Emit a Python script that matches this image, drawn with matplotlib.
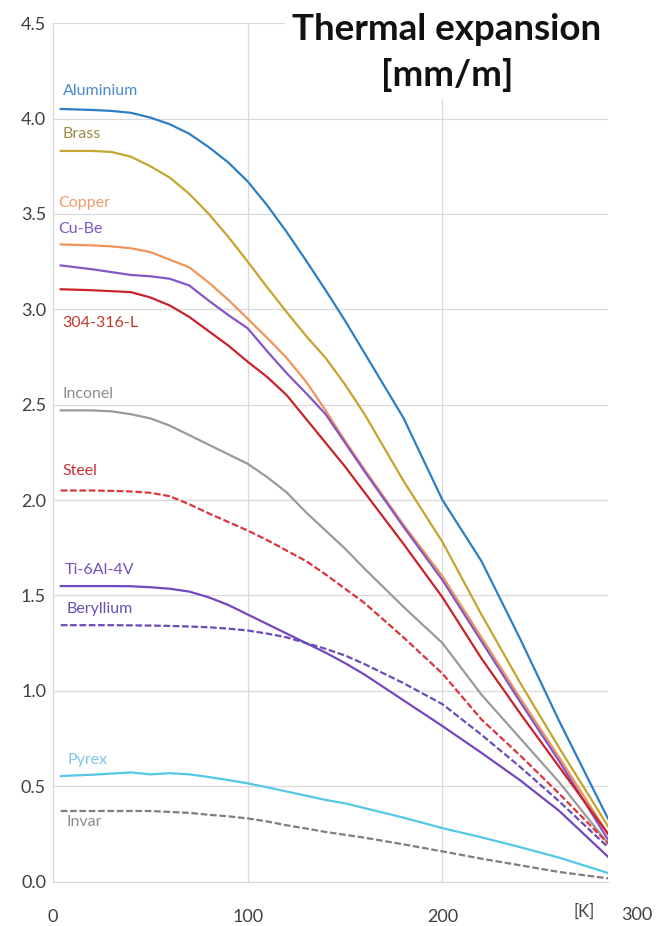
import matplotlib
matplotlib.use("Agg")
import matplotlib.pyplot as plt

plt.rcParams['font.family'] = ['Lato', 'DejaVu Sans']

# temperature [K]
temp = [4, 20, 30, 40, 50, 60, 70, 80, 90, 100, 110, 120, 130, 140, 150, 160,
        180, 200, 220, 240, 260, 285]

# thermal expansion [mm/m]
aluminium = [4.05, 4.045, 4.04, 4.03, 4.005, 3.97, 3.92, 3.85, 3.77, 3.67, 3.545, 3.405, 3.255, 3.10,
             2.94, 2.77, 2.43, 2.00, 1.68, 1.27, 0.84, 0.33]
brass = [3.83, 3.83, 3.825, 3.80, 3.75, 3.69, 3.605, 3.50, 3.38, 3.25, 3.115, 2.985, 2.86, 2.745,
         2.605, 2.45, 2.10, 1.78, 1.40, 1.04, 0.70, 0.29]
copper = [3.34, 3.335, 3.33, 3.32, 3.30, 3.26, 3.22, 3.14, 3.05, 2.95, 2.85, 2.745, 2.62, 2.47,
          2.31, 2.16, 1.87, 1.60, 1.28, 0.96, 0.65, 0.25]
cube = [3.23, 3.21, 3.195, 3.18, 3.173, 3.16, 3.125, 3.045, 2.97, 2.90, 2.78, 2.665, 2.56, 2.45,
        2.30, 2.15, 1.86, 1.58, 1.26, 0.94, 0.63, 0.22]
ss304 = [3.105, 3.10, 3.095, 3.09, 3.062, 3.02, 2.96, 2.885, 2.81, 2.725, 2.645, 2.55, 2.425, 2.30,
         2.175, 2.04, 1.77, 1.49, 1.17, 0.88, 0.60, 0.25]
inconel = [2.47, 2.47, 2.465, 2.45, 2.428, 2.39, 2.34, 2.29, 2.24, 2.19, 2.12, 2.04, 1.935, 1.84,
           1.745, 1.64, 1.44, 1.25, 0.98, 0.75, 0.52, 0.20]
steel = [2.05, 2.05, 2.048, 2.045, 2.038, 2.02, 1.978, 1.93, 1.885, 1.84, 1.79, 1.735, 1.68, 1.61,
         1.535, 1.46, 1.28, 1.09, 0.85, 0.66, 0.46, 0.20]
ti64 = [1.549, 1.549, 1.549, 1.548, 1.543, 1.535, 1.52, 1.49, 1.45, 1.40, 1.35, 1.30, 1.25, 1.20,
        1.145, 1.085, 0.95, 0.815, 0.675, 0.53, 0.37, 0.13]
beryllium = [1.344, 1.344, 1.344, 1.343, 1.342, 1.34, 1.337, 1.333, 1.326, 1.316, 1.30, 1.28, 1.25,
             1.22, 1.185, 1.14, 1.04, 0.93, 0.77, 0.60, 0.42, 0.18]
pyrex = [0.553, 0.56, 0.566, 0.572, 0.562, 0.568, 0.562, 0.548, 0.532, 0.515, 0.494, 0.472, 0.45,
         0.428, 0.41, 0.385, 0.335, 0.28, 0.232, 0.18, 0.125, 0.045]
invar = [0.37, 0.37, 0.37, 0.37, 0.37, 0.365, 0.36, 0.35, 0.342, 0.331, 0.315, 0.295, 0.278, 0.26,
         0.245, 0.23, 0.195, 0.158, 0.12, 0.085, 0.05, 0.017]

names = ['Aluminium', 'Brass', 'Copper', 'Cu-Be', '304-316-L', 'Inconel', 'Steel',
         'Ti-6Al-4V', 'Beryllium', 'Pyrex', 'Invar']
series = [aluminium, brass, copper, cube, ss304, inconel, steel, ti64, beryllium, pyrex, invar]
colors = ['#2E7EC3', '#C4A52E', '#F0955A', '#8456C6', '#C8232C', '#9A9A9A', '#D9363E',
          '#7447BF', '#6A4CB8', '#55C8E6', '#7F7F7F']
dashed = [False, False, False, False, False, False, True, False, True, False, True]
# label anchor (x, y) in data units
label_x = [5, 5, 2.5, 2.5, 5, 5, 5, 6, 7, 7.5, 7]
label_y = [4.143, 3.92, 3.556, 3.42, 2.93, 2.555, 2.152, 1.633, 1.43, 0.637, 0.312]
label_colors = ['#4A8AD0', '#9C8A45', '#F29B68', '#7E57C2', '#C0392B', '#8C8C8C', '#C8303A',
                '#7450B8', '#6A50B0', '#7FC8E8', '#8C8C8C']

fig = plt.figure(figsize=(6.58, 9.26), dpi=100)
ax = fig.add_axes([0.0805, 0.048, 0.8435, 0.927])

for ys, c, d in zip(series, colors, dashed):
    if d:
        ax.plot(temp, ys, color=c, lw=1.6, dashes=(3, 1.2), zorder=3)
    else:
        ax.plot(temp, ys, color=c, lw=1.6, zorder=3)

for n, lx, ly, lc in zip(names, label_x, label_y, label_colors):
    ax.text(lx, ly, n, color=lc, fontsize=11.5, ha='left', va='center', zorder=4)

ax.set_xlim(0, 285)
ax.set_ylim(0, 4.5)
ax.set_yticks([0, 0.5, 1, 1.5, 2, 2.5, 3, 3.5, 4, 4.5])
ax.set_yticklabels(['0.0', '0.5', '1.0', '1.5', '2.0', '2.5', '3.0', '3.5', '4.0', '4.5'])
ax.set_xticks([0, 100, 200])
ax.set_xticklabels(['0', '100', '200'])
ax.tick_params(axis='both', length=0, labelsize=13, labelcolor='#404040')
ax.tick_params(axis='y', pad=5)
ax.tick_params(axis='x', pad=20)
ax.text(300, -0.039, '300', transform=ax.get_xaxis_transform(), ha='center', va='center',
        fontsize=13, color='#404040')
ax.text(272.5, -0.035, '[K]', transform=ax.get_xaxis_transform(), ha='center', va='center',
        fontsize=12, color='#404040')

ax.grid(True, color='#DADADA', lw=0.9)
ax.set_axisbelow(True)
for s in ['top', 'right']:
    ax.spines[s].set_visible(False)
for s in ['left', 'bottom']:
    ax.spines[s].set_color('#DADADA')
    ax.spines[s].set_linewidth(0.9)

fig.text(0.679, 0.986, 'Thermal expansion\n[mm/m]', ha='center', va='top',
         fontsize=26.5, fontweight='bold', color='#111111', linespacing=1.42, zorder=5,
         bbox=dict(facecolor='white', edgecolor='none', pad=5))

fig.savefig('out.png', dpi=100)
